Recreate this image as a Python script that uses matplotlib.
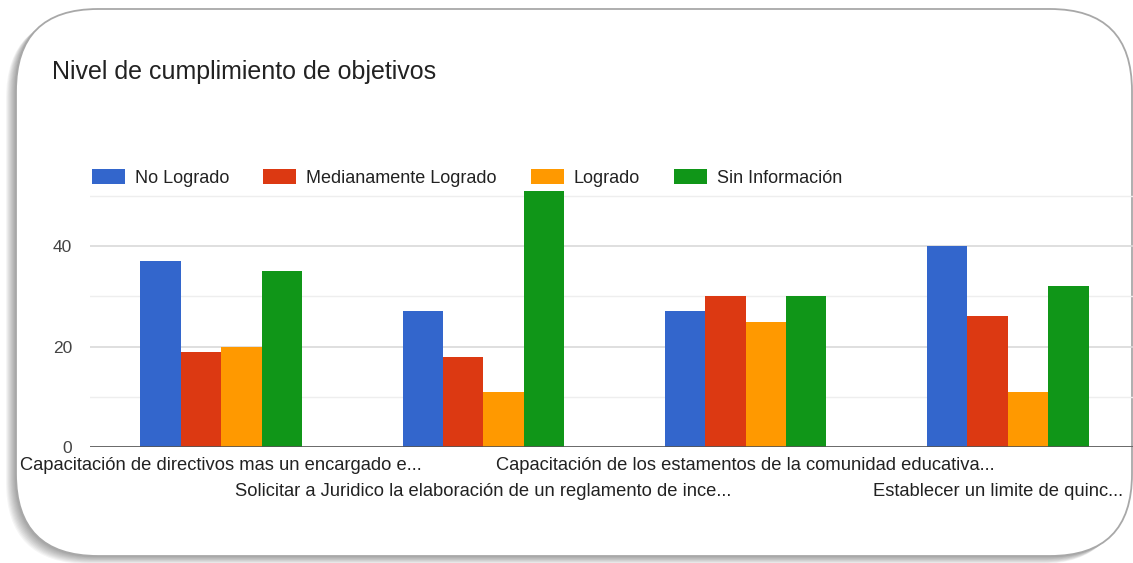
import matplotlib
matplotlib.use("Agg")
import matplotlib.pyplot as plt
import numpy as np
from matplotlib.patches import FancyBboxPatch, Patch
from matplotlib.transforms import IdentityTransform

plt.rcParams['font.family'] = ['Liberation Sans', 'DejaVu Sans']

# Data
title = "Nivel de cumplimiento de objetivos"
categories = [
    "Capacitación de directivos mas un encargado e...",
    "Solicitar a Juridico la elaboración de un reglamento de ince...",
    "Capacitación de los estamentos de la comunidad educativa...",
    "Establecer un limite de quinc...",
]
series_names = ["No Logrado", "Medianamente Logrado", "Logrado", "Sin Información"]
no_logrado = [37, 27, 27, 40]
medianamente = [19, 18, 30, 26]
logrado = [20, 11, 25, 11]
sin_info = [35, 51, 30, 32]
colors = ["#3366cc", "#dc3912", "#ff9900", "#109618"]
y_ticks = [0, 20, 40]

W, H, DPI = 1133, 563, 100
fig = plt.figure(figsize=(W / DPI, H / DPI), dpi=DPI)
fig.patch.set_facecolor("white")

# Rounded card with soft shadow (pixel coordinates, origin bottom-left)
fx0, fx1, fy0, fy1 = 16, 1132, 7, 554
rad = 82
for i in range(10, 0, -1):
    sh = FancyBboxPatch((fx0 - i * 1.0, fy0 - i * 0.8), fx1 - fx0, fy1 - fy0,
                        boxstyle=f"round,pad=0,rounding_size={rad}",
                        transform=IdentityTransform(), facecolor="#000000",
                        edgecolor="none", alpha=0.04, zorder=-3)
    fig.add_artist(sh)
card = FancyBboxPatch((fx0, fy0), fx1 - fx0, fy1 - fy0,
                      boxstyle=f"round,pad=0,rounding_size={rad}",
                      transform=IdentityTransform(), facecolor="white",
                      edgecolor="#a8a8a8", linewidth=1.3, zorder=-2)
fig.add_artist(card)

# Plot area
ax_left, ax_right, ax_bottom, ax_top = 90, 1139, 447, 191
ax = fig.add_axes([ax_left / W, (H - ax_bottom) / H,
                   (ax_right - ax_left) / W, (ax_bottom - ax_top) / H])
ax.patch.set_visible(False)

x = np.arange(len(categories))
bw = 0.154
all_series = [no_logrado, medianamente, logrado, sin_info]
for k, (vals, col, name) in enumerate(zip(all_series, colors, series_names)):
    ax.bar(x + (k - 1.5) * bw, vals, width=bw, color=col, label=name,
           zorder=3, linewidth=0)

ax.set_xlim(-0.5, len(categories) - 0.5)
ax.set_ylim(0, 51)
ax.set_yticks(y_ticks)
ax.set_yticks([10, 30, 50], minor=True)
ax.grid(axis="y", which="major", color="#d9d9d9", linewidth=1.2, zorder=0)
ax.grid(axis="y", which="minor", color="#eeeeee", linewidth=1.0, zorder=0)
ax.axhline(0, color="#555555", linewidth=1.2, zorder=4)
for s in ax.spines.values():
    s.set_visible(False)
ax.tick_params(axis="y", which="both", length=0, pad=13, labelsize=12.5,
               labelcolor="#444444")
ax.set_xticks([])

# Category labels in two staggered rows
lab_fs = 13.2
for i, lab in enumerate(categories):
    row_off = -18 if i % 2 == 0 else -44
    if i == len(categories) - 1:
        ax.annotate(lab, xy=(i + 0.44, 0), xycoords=("data", "axes fraction"),
                    xytext=(0, row_off), textcoords="offset pixels",
                    ha="right", va="center", fontsize=lab_fs, color="#222222")
    else:
        ax.annotate(lab, xy=(i, 0), xycoords=("data", "axes fraction"),
                    xytext=(0, row_off), textcoords="offset pixels",
                    ha="center", va="center", fontsize=lab_fs, color="#222222")

# Title
fig.text(52 / W, 1 - 72 / H, title, fontsize=18, color="#222222",
         ha="left", va="center")

# Legend
handles = [Patch(facecolor=c, edgecolor="none") for c in colors]
fig.legend(handles, series_names, loc="center left",
           bbox_to_anchor=(92 / W, 1 - 178 / H), ncol=4, frameon=False,
           fontsize=13, handlelength=1.83, handleheight=0.94,
           handletextpad=0.55, columnspacing=1.88, borderaxespad=0,
           borderpad=0, labelcolor="#222222")

fig.savefig("out.png", dpi=DPI, facecolor="white")
